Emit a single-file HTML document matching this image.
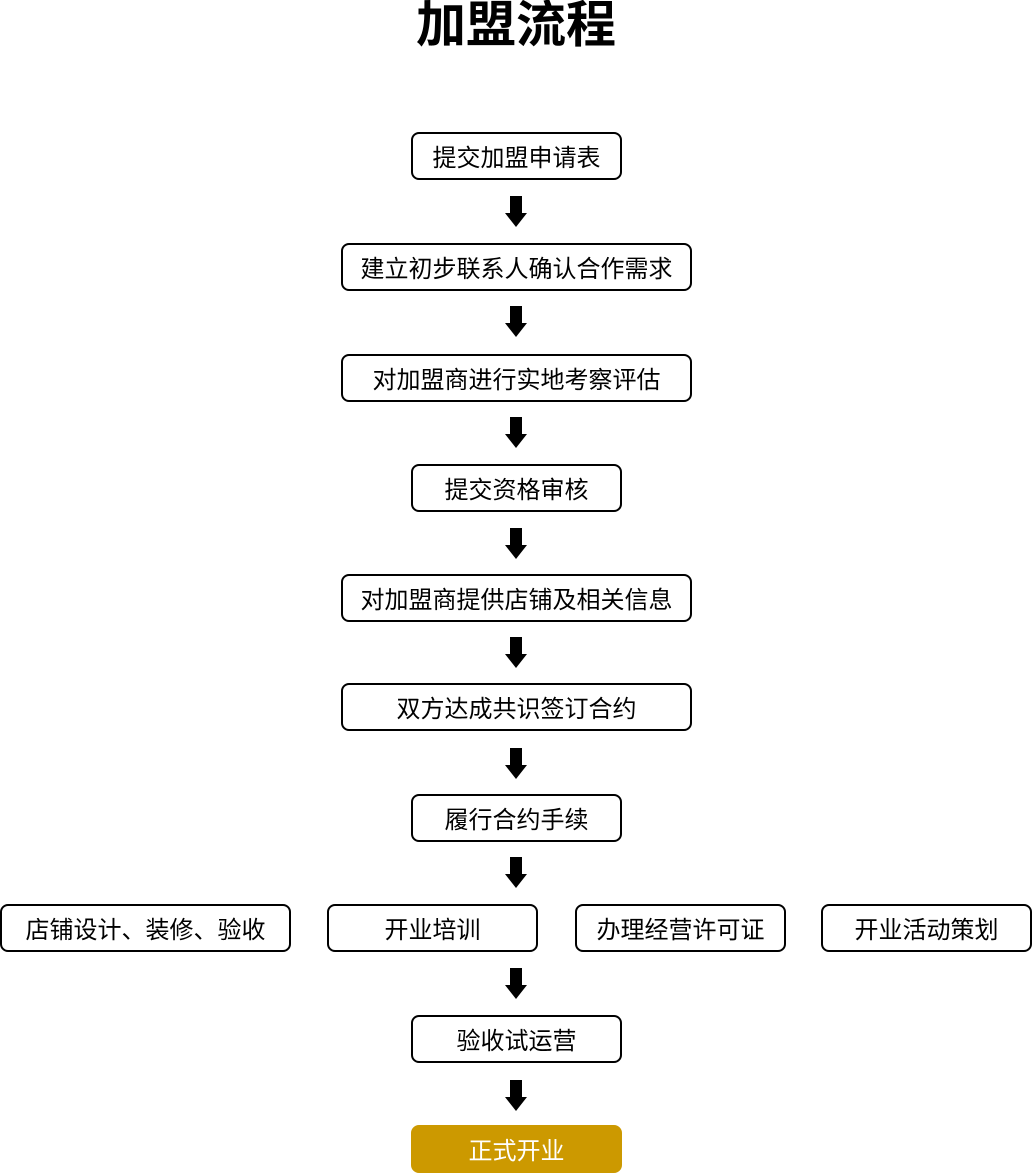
<!DOCTYPE html>
<html><head><meta charset="utf-8"><style>
body{margin:0;width:1032px;height:1173px;background:#fff;position:relative;overflow:hidden;font-family:"Liberation Sans","Noto Sans CJK SC",sans-serif;}
.t{position:absolute;left:0;width:1032px;top:0;height:50px;line-height:50px;text-align:center;font-size:50px;font-weight:bold;color:#000;}
.b{position:absolute;box-sizing:border-box;border:2px solid #000;border-radius:8px;display:flex;align-items:center;justify-content:center;font-size:24px;color:#000;background:#fff;padding-bottom:2px;}
.g{background:#cc9900;border-color:#cc9900;color:#fff;}
.a{position:absolute;left:505px;width:22px;height:31px;}
</style></head><body>
<div class="t">加盟流程</div>
<div class="b" style="left:411px;top:132px;width:211px;height:48px">提交加盟申请表</div>
<div class="b" style="left:341px;top:243px;width:351px;height:48px">建立初步联系人确认合作需求</div>
<div class="b" style="left:341px;top:354px;width:351px;height:48px">对加盟商进行实地考察评估</div>
<div class="b" style="left:411px;top:464px;width:211px;height:48px">提交资格审核</div>
<div class="b" style="left:341px;top:574px;width:351px;height:48px">对加盟商提供店铺及相关信息</div>
<div class="b" style="left:341px;top:683px;width:351px;height:48px">双方达成共识签订合约</div>
<div class="b" style="left:411px;top:794px;width:211px;height:48px">履行合约手续</div>
<div class="b" style="left:0px;top:904px;width:291px;height:48px">店铺设计、装修、验收</div>
<div class="b" style="left:327px;top:904px;width:211px;height:48px">开业培训</div>
<div class="b" style="left:575px;top:904px;width:211px;height:48px">办理经营许可证</div>
<div class="b" style="left:821px;top:904px;width:211px;height:48px">开业活动策划</div>
<div class="b" style="left:411px;top:1015px;width:211px;height:48px">验收试运营</div>
<div class="b g" style="left:411px;top:1125px;width:211px;height:48px">正式开业</div>
<svg width="0" height="0" style="position:absolute"><defs><g id="ar"><rect x="5" y="0" width="12" height="18" fill="#000"/><polygon points="0,17 22,17 11,31" fill="#000"/></g></defs></svg>
<svg class="a" style="top:196px"><use href="#ar"/></svg>
<svg class="a" style="top:306px"><use href="#ar"/></svg>
<svg class="a" style="top:417px"><use href="#ar"/></svg>
<svg class="a" style="top:528px"><use href="#ar"/></svg>
<svg class="a" style="top:637px"><use href="#ar"/></svg>
<svg class="a" style="top:748px"><use href="#ar"/></svg>
<svg class="a" style="top:857px"><use href="#ar"/></svg>
<svg class="a" style="top:968px"><use href="#ar"/></svg>
<svg class="a" style="top:1080px"><use href="#ar"/></svg>
</body></html>
